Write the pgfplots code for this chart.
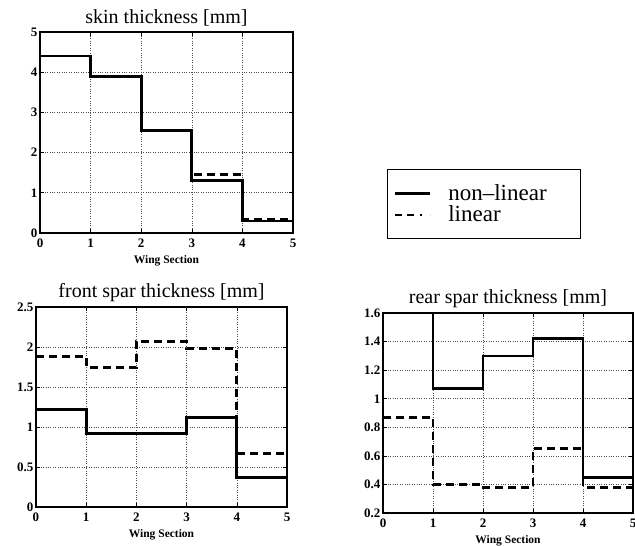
\documentclass[border=0pt]{standalone}
\usepackage{fontspec}
\setmainfont{Liberation Serif}
\usepackage{pgfplots}
\pgfplotsset{compat=1.18}

% section-wise thickness values (sections 0..4, last value repeated for the step end)
\pgfplotsset{
  panel/.style={
    scale only axis,
    anchor=south west,
    xmin=0, xmax=5,
    xtick={0,1,2,3,4,5},
    grid=major,
    major grid style={dotted, black!70, line width=0.6pt},
    axis line style={line width=1.2pt},
    tick style={line width=0.6pt, black},
    tick label style={font=\fontsize{13}{13}\selectfont\bfseries},
    /pgf/number format/assume math mode=true,
    title style={font=\fontsize{20}{21}\selectfont, yshift=-4pt},
    xlabel style={font=\fontsize{11.5}{12}\selectfont\bfseries, yshift=-1pt},
    xticklabel style={yshift=-2pt},
    yticklabel style={xshift=1pt},
    clip=false,
  },
  nl/.style={black, line width=2.7pt, const plot mark left},
  li/.style={black, line width=2.7pt, dash pattern=on 8pt off 5pt, const plot mark left},
}

\begin{document}
\begin{tikzpicture}
\path[use as bounding box] (0pt,0pt) rectangle (635pt,546pt);

% skin thickness
\begin{axis}[panel, at={(40pt,313pt)}, width=253pt, height=201pt,
  ymin=0, ymax=5, ytick={0,1,2,3,4,5},
  title={skin thickness [mm]}, xlabel={Wing Section},
  legend style={at={(1.372,0.318)}, anchor=north west, draw=black, line width=1pt,
    font=\fontsize{23}{23}\selectfont, inner xsep=6pt, inner ysep=13pt,
    row sep=0pt},
  legend cell align=left,
  legend image code/.code={\draw[#1] (0pt,0pt) -- (35pt,0pt); \path (50pt,0pt);},
  ]
\addplot[li] coordinates {(0,4.4) (1,3.9) (2,2.55) (3,1.45) (4,0.35) (5,0.35)};
\addplot[nl] coordinates {(0,4.4) (1,3.9) (2,2.55) (3,1.3) (4,0.3) (5,0.3)};
\addlegendimage{black, line width=2.7pt}
\addlegendimage{black, line width=2.2pt, dash pattern=on 7pt off 5pt on 7pt off 6pt on 2pt off 8pt}
\legend{,,non--linear\rule{26pt}{0pt},linear}
\end{axis}

% front spar thickness
\begin{axis}[panel, at={(36pt,39pt)}, width=251pt, height=200pt,
  ymin=0, ymax=2.5, ytick={0,0.5,1,1.5,2,2.5},
  title={front spar thickness [mm]}, xlabel={Wing Section}]
\addplot[nl] coordinates {(0,1.22) (1,0.92) (2,0.92) (3,1.12) (4,0.37) (5,0.37)};
\addplot[li] coordinates {(0,1.88) (1,1.74) (2,2.07) (3,1.98) (4,0.67) (5,0.67)};
\end{axis}

% rear spar thickness
\begin{axis}[panel, at={(383pt,33pt)}, width=250pt, height=200pt,
  ymin=0.2, ymax=1.6, ytick={0.2,0.4,0.6,0.8,1,1.2,1.4,1.6},
  yticklabels={0.2,0.4,0.6,0.8,1,1.2,1.4,1.6},
  title={rear spar thickness [mm]}, xlabel={Wing Section}]
\addplot[nl] coordinates {(0,1.6) (1,1.07) (2,1.3) (3,1.42) (4,0.45) (5,0.45)};
\addplot[li] coordinates {(0,0.87) (1,0.4) (2,0.38) (3,0.65) (4,0.38) (5,0.38)};
\end{axis}
\end{tikzpicture}
\end{document}
